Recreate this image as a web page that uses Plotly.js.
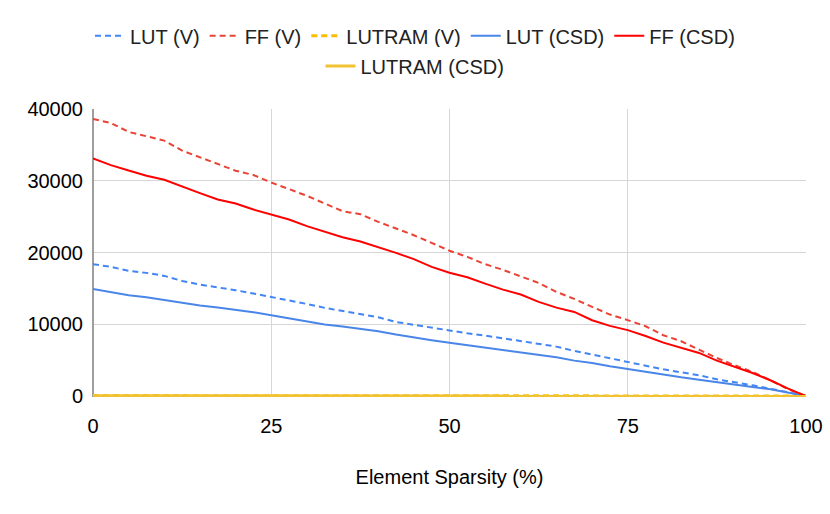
<!DOCTYPE html>
<html>
<head>
<meta charset="utf-8">
<script src="https://cdn.plot.ly/plotly-3.0.1.min.js"></script>
<style>
  body { margin: 0; background: #fff; }
  #chart { width: 830px; height: 514px; }
</style>
</head>
<body>
<div id="chart"></div>
<script>
// element sparsity (%) on the x axis
const sparsity = [0, 2.5, 5, 7.5, 10, 12.5, 15, 17.5, 20, 22.5, 25, 27.5, 30, 32.5, 35, 37.5, 40, 42.5, 45, 47.5,
    50, 52.5, 55, 57.5, 60, 62.5, 65, 67.5, 70, 72.5, 75, 77.5, 80, 82.5, 85, 87.5, 90, 92.5, 95, 97.5, 100];

// resource counts
const lutV = [18370, 18000, 17440, 17160, 16740, 16040, 15530, 15160, 14740, 14280, 13810, 13300, 12830, 12280,
    11810, 11390, 10970, 10320, 9900, 9530, 9140, 8740, 8420, 8040, 7670, 7250, 6880, 6280, 5770, 5210, 4650,
    4190, 3720, 3300, 2880, 2330, 1950, 1490, 1020, 560, 0];
const ffV = [38600, 38050, 36800, 36200, 35600, 34200, 33300, 32300, 31400, 30800, 29750, 28830, 27900, 26830,
    25760, 25340, 24270, 23340, 22410, 21340, 20250, 19390, 18370, 17580, 16690, 15760, 14510, 13530, 12420,
    11350, 10580, 9720, 8460, 7630, 6460, 5300, 4280, 3350, 2190, 930, 0];
const lutramV = [60, 60, 58, 58, 56, 56, 54, 54, 52, 50, 50, 48, 48, 46, 44, 44, 42, 42, 40, 38, 38, 36, 36, 34,
    32, 32, 30, 30, 28, 26, 26, 24, 22, 22, 20, 18, 16, 14, 12, 8, 0];
const lutCSD = [14930, 14460, 14040, 13760, 13350, 12970, 12600, 12320, 12000, 11670, 11250, 10830, 10370, 9950,
    9670, 9350, 9020, 8560, 8140, 7770, 7420, 7070, 6790, 6420, 6090, 5720, 5390, 4930, 4600, 4140, 3740, 3300,
    2930, 2600, 2280, 1910, 1580, 1260, 930, 460, 0];
const ffCSD = [33100, 32180, 31430, 30690, 30130, 29150, 28270, 27390, 26830, 25990, 25270, 24600, 23670, 22880,
    22130, 21530, 20790, 19950, 19070, 18000, 17180, 16550, 15670, 14830, 14140, 13110, 12320, 11720, 10560,
    9770, 9180, 8370, 7440, 6700, 6000, 4930, 4090, 3210, 2190, 1020, 0];
const lutramCSD = [40, 40, 38, 38, 38, 36, 36, 34, 34, 32, 32, 30, 30, 30, 28, 28, 26, 26, 24, 24, 24, 22, 22,
    20, 20, 18, 18, 18, 16, 16, 14, 14, 12, 12, 10, 10, 8, 8, 6, 4, 0];

const DASH = "6px,4px";

const makeLine = (name, values, color, dash, width, legendName) => ({
    x: sparsity,
    y: values,
    name: name,
    type: "scatter",
    mode: "lines",
    cliponaxis: false,
    legend: legendName || "legend",
    line: { color: color, width: width, dash: dash }
});

const data = [
    makeLine("LUT (V)", lutV, "#4285f4", DASH, 2),
    makeLine("FF (V)", ffV, "#ea4335", DASH, 2),
    makeLine("LUTRAM (V)", lutramV, "#fbbc04", DASH, 3),
    makeLine("LUT (CSD)", lutCSD, "#4a86e8", "solid", 2),
    makeLine("FF (CSD)", ffCSD, "#ff0000", "solid", 2),
    // the last entry sits on its own centred row, so it gets a second legend
    makeLine("LUTRAM (CSD)", lutramCSD, "#f1c232", "solid", 3, "legend2")
];

// legends are centred on the page, not on the plot area
const legendBase = {
    orientation: "h",
    x: 0.4516,
    xanchor: "center",
    yanchor: "top",
    font: { size: 20, color: "#222222" },
    itemwidth: 30
};

const layout = {
    width: 830,
    height: 514,
    margin: { l: 93, r: 24, t: 109, b: 117 },
    paper_bgcolor: "#ffffff",
    plot_bgcolor: "#ffffff",
    font: { family: "Liberation Sans, Arial, sans-serif", size: 20, color: "#000000" },
    showlegend: true,
    legend: Object.assign({}, legendBase, { y: 1.322 }),
    legend2: Object.assign({}, legendBase, { y: 1.217 }),
    xaxis: {
        range: [0, 100],
        dtick: 25,
        tick0: 0,
        showgrid: true,
        gridcolor: "#d6d6d6",
        gridwidth: 1,
        zeroline: true,
        zerolinecolor: "#9e9e9e",
        zerolinewidth: 2,
        showline: false,
        ticks: "outside",
        ticklen: 11,
        tickcolor: "rgba(0,0,0,0)",
        title: { text: "Element Sparsity (%)", font: { size: 20 }, standoff: 33 }
    },
    yaxis: {
        range: [-140, 40000],
        dtick: 10000,
        tick0: 0,
        tickformat: "d",
        showgrid: true,
        gridcolor: "#d6d6d6",
        gridwidth: 1,
        zeroline: false,
        ticks: "outside",
        ticklen: 5,
        tickcolor: "rgba(0,0,0,0)"
    }
};

Plotly.newPlot("chart", data, layout, { displayModeBar: false, staticPlot: true });
</script>
</body>
</html>
